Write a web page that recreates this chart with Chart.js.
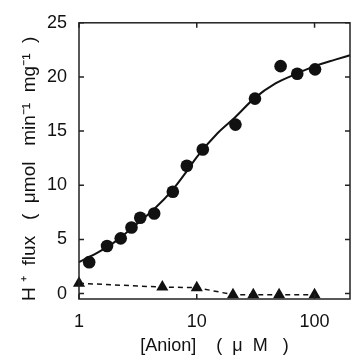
<!DOCTYPE html>
<html>
<head>
<meta charset="utf-8">
<script src="https://cdn.jsdelivr.net/npm/chart.js@4/dist/chart.umd.min.js"></script>
<style>
  html, body { margin: 0; padding: 0; background: #fff; }
  #wrap { width: 357px; height: 358px; }
</style>
</head>
<body>
<div id="wrap"><canvas id="fluxChart"></canvas></div>
<script>
// values
const circleX = [1.22, 1.73, 2.26, 2.79, 3.31, 4.35, 6.26, 8.23, 11.25, 21.3, 31.2, 51.5, 71.3, 101];
const circleY = [2.9, 4.4, 5.1, 6.1, 7.0, 7.4, 9.4, 11.8, 13.3, 15.6, 18.0, 21.0, 20.3, 20.7];

// fitted curve
const fitX = [1, 1.5, 2, 3, 4.35, 6.26, 8.23, 10, 15, 21.3, 30.6, 46.6, 70.3, 100, 150, 200];
const fitY = [2.9, 3.9, 4.75, 6.3, 7.8, 9.6, 11.3, 12.6, 14.8, 16.3, 18.0, 19.4, 20.3, 21.0, 21.6, 22.0];

const triangleX = [1, 5.1, 10, 20.3, 30.2, 50, 100];
const triangleY = [0.95, 0.6, 0.55, -0.1, -0.1, -0.1, -0.1];

const xTicks = [1, 10, 100];
const yTicks = [0, 5, 10, 15, 20, 25];

function pts(xs, ys) {
    return xs.map((x, i) => ({x: x, y: ys[i]}));
}

// frame round the plot with short inward ticks on all four sides
const frameTicks = {
    id: 'frameTicks',
    afterDraw(chart) {
        const ctx = chart.ctx;
        const a = chart.chartArea;
        const xs = chart.scales.x, ys = chart.scales.y;
        ctx.save();
        ctx.strokeStyle = '#222';
        ctx.lineWidth = 1.5;
        ctx.strokeRect(a.left, a.top, a.right - a.left, a.bottom - a.top);
        ctx.beginPath();
        for (const v of yTicks) {
            const py = ys.getPixelForValue(v);
            ctx.moveTo(a.left, py); ctx.lineTo(a.left + 5, py);
            ctx.moveTo(a.right, py); ctx.lineTo(a.right - 5, py);
        }
        for (const v of xTicks) {
            const px = xs.getPixelForValue(v);
            ctx.moveTo(px, a.bottom); ctx.lineTo(px, a.bottom - 5);
            ctx.moveTo(px, a.top); ctx.lineTo(px, a.top + 5);
        }
        ctx.stroke();
        ctx.restore();
    }
};

Chart.defaults.font.family = '"Liberation Sans", Arial, sans-serif';
Chart.defaults.color = '#111';

const ctx = document.getElementById('fluxChart').getContext('2d');
new Chart(ctx, {
    type: 'scatter',
    data: {
        datasets: [
            {
                data: pts(fitX, fitY),
                showLine: true,
                borderColor: '#111',
                borderWidth: 2,
                pointRadius: 0,
                cubicInterpolationMode: 'monotone',
                clip: false
            },
            {
                data: pts(circleX, circleY),
                showLine: false,
                pointStyle: 'circle',
                pointRadius: 6.3,
                backgroundColor: '#111',
                borderColor: '#111',
                borderWidth: 0,
                clip: false
            },
            {
                data: pts(triangleX, triangleY),
                showLine: true,
                borderColor: '#111',
                borderWidth: 1.5,
                borderDash: [5, 4],
                pointStyle: 'triangle',
                pointRadius: 7,
                backgroundColor: '#111',
                pointBorderWidth: 0,
                clip: false
            }
        ]
    },
    options: {
        responsive: true,
        maintainAspectRatio: false,
        animation: false,
        layout: {padding: {top: 21, right: 1, left: 0, bottom: 0}},
        plugins: {legend: {display: false}, tooltip: {enabled: false}},
        scales: {
            x: {
                type: 'logarithmic',
                min: 1,
                max: 200,
                grid: {display: false, drawTicks: false},
                border: {display: false},
                afterBuildTicks(scale) { scale.ticks = xTicks.map(v => ({value: v})); },
                afterFit(scale) { scale.height = 59; },
                ticks: {
                    padding: 12,
                    font: {size: 18},
                    callback: v => String(v)
                },
                title: {
                    display: true,
                    text: '[Anion]    (  μ  M   )',
                    font: {size: 18},
                    padding: {top: 0, bottom: 1}
                }
            },
            y: {
                min: -0.5,
                max: 25,
                grid: {display: false, drawTicks: false},
                border: {display: false},
                afterBuildTicks(scale) { scale.ticks = yTicks.map(v => ({value: v})); },
                afterFit(scale) { scale.width = 79; },
                ticks: {
                    padding: 12,
                    font: {size: 18}
                },
                title: {
                    display: true,
                    text: 'H ⁺  flux   (  μmol   min⁻¹  mg⁻¹  )   ',
                    font: {size: 19},
                    padding: {top: 18, bottom: 0}
                }
            }
        }
    },
    plugins: [frameTicks]
});
</script>
</body>
</html>
